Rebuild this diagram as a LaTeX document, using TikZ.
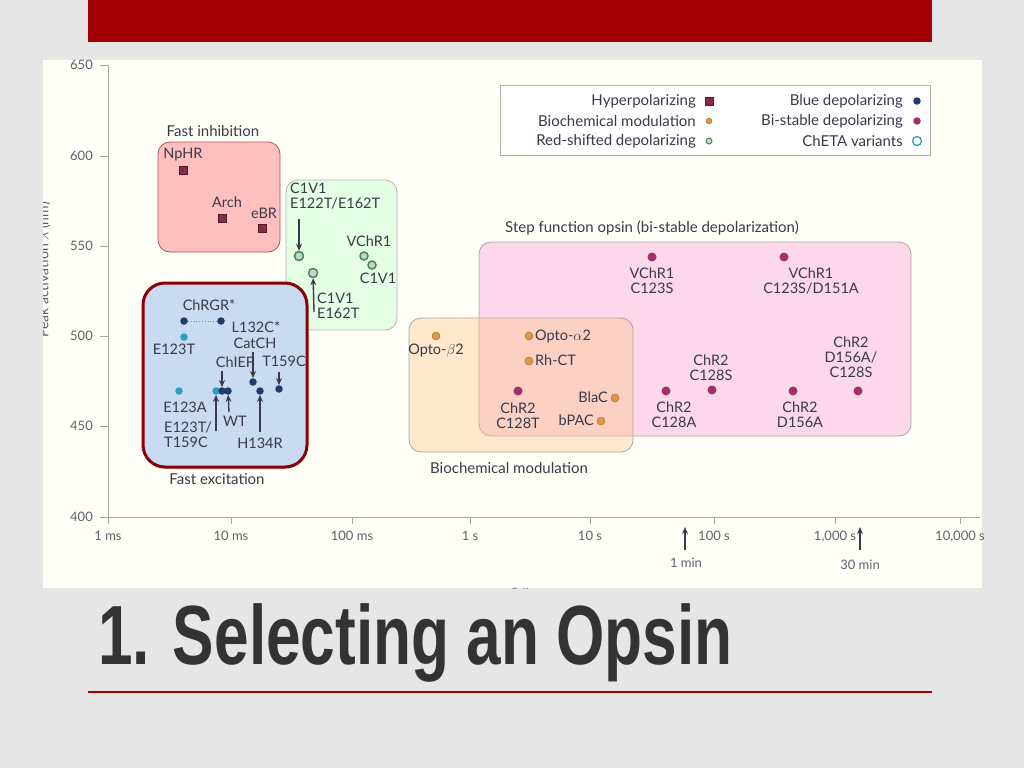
\documentclass[tikz,border=0pt]{standalone}
\usepackage{fontspec}
\setmainfont{Lato}
\newfontfamily\titlefont{Liberation Sans}
\usetikzlibrary{arrows.meta,shadows}
\definecolor{bg}{HTML}{E6E6E6}
\definecolor{barred}{HTML}{A30008}
\definecolor{hyp}{HTML}{8A2A45}
\definecolor{bio}{HTML}{E0963C}
\definecolor{reds}{HTML}{5AA870}
\definecolor{blue}{HTML}{1F3A6B}
\definecolor{bis}{HTML}{A0306A}
\definecolor{cheta}{HTML}{2A9EC0}
\definecolor{txt}{HTML}{3A3A4A}
\definecolor{febox}{HTML}{C8DBF0}
\tikzset{
 lab/.style={font=\fontsize{14.5}{15}\selectfont, text=txt, inner sep=1pt, align=center},
 lbl/.style={font=\fontsize{15}{16}\selectfont, text=txt, inner sep=1pt},
 tick/.style={font=\fontsize{13}{14}\selectfont, text=txt!80, inner sep=1pt},
 sq/.style={fill=hyp, draw=hyp!60!black, minimum size=8pt, inner sep=0pt},
 dotb/.style={circle, fill=blue, minimum size=7.5pt, inner sep=0pt},
 dotc/.style={circle, fill=cheta, minimum size=7.5pt, inner sep=0pt},
 dotbio/.style={circle, fill=bio, draw=bio!70!black, minimum size=8pt, inner sep=0pt},
 dotbis/.style={circle, fill=bis, minimum size=9pt, inner sep=0pt},
 ringg/.style={circle, fill=reds!40, draw=reds!80!black, line width=1.5pt, minimum size=9pt, inner sep=0pt},
 ringc/.style={circle, draw=cheta, line width=1.3pt, minimum size=9pt, inner sep=0pt},
 arr/.style={-{Stealth[length=7pt,width=6pt]}, line width=1.4pt, draw=txt},
 grp/.style={rounded corners=12pt, line width=0.8pt},
}
\begin{document}
\begin{tikzpicture}[x=1pt,y=-1pt]
\useasboundingbox (0,0) rectangle (1024,768);
\fill[bg] (0,0) rectangle (1024,768);
\fill[barred] (88,0) rectangle (932,42);
\fill[white!97!yellow] (43,60) rectangle (982,588);
% axes
\draw[gray!70, line width=0.8pt] (108,65) -- (108,517) -- (980,517);
\foreach \v/\y in {650/65,600/156,550/246,500/336,450/426,400/517}{
  \draw[gray!70, line width=0.8pt] (100,\y) -- (108,\y);
  \node[tick, anchor=east] at (94,\y) {\v};}
\foreach \l/\x in {1 ms/108,10 ms/231,100 ms/352,1 s/470,10 s/590,100 s/714,{1,000 s}/835,{10,000 s}/960}{
  \draw[gray!70, line width=0.8pt] (\x,517) -- (\x,524);
  \node[tick, anchor=north] at (\x,530) {\l};}
\begin{scope}
\clip (43,60) rectangle (982,588);
\node[tick, rotate=90, font=\fontsize{14}{15}\selectfont] (ylab) at (44,270) {Peak activation $\lambda$ (nm)};
\node[tick] (xlab) at (520,592) {$\tau_{\mathrm{off}}$};
\end{scope}
\coordinate (m1a) at (685,550); \coordinate (m1b) at (685,527);
\draw[arr] (m1a) -- (m1b);
\node[tick] (min1) at (686,563) {1 min};
\coordinate (m30a) at (860,550); \coordinate (m30b) at (860,527);
\draw[arr] (m30a) -- (m30b);
\node[tick] (min30) at (860,565) {30 min};
% legend
\draw[gray!60, line width=0.8pt, fill=white] (500,85) rectangle (930,155);
\node[lbl, anchor=east] (lg1) at (697,101) {Hyperpolarizing};
\node[sq] at (709,101) {};
\node[lbl, anchor=east] (lg2) at (697,121) {Biochemical modulation};
\node[dotbio, minimum size=6pt] at (709,121) {};
\node[lbl, anchor=east] (lg3) at (697,141) {Red-shifted depolarizing};
\node[ringg, minimum size=6pt, line width=1pt] at (709,141) {};
\node[lbl, anchor=east] (lg4) at (904,101) {Blue depolarizing};
\node[dotb] at (917,101) {};
\node[lbl, anchor=east] (lg5) at (904,121) {Bi-stable depolarizing};
\node[dotbis, minimum size=7.5pt] at (917,121) {};
\node[lbl, anchor=east] (lg6) at (904,141) {ChETA variants};
\node[ringc] at (917,141) {};
% fast inhibition
\node[lbl] (fi) at (213,131) {Fast inhibition};
\draw[grp, fill=red!25, draw=red!35!gray] (158,142) rectangle (280,252);
\node[lab] (nphrl) at (183,155) {NpHR}; \node[sq] (nphr) at (183,170) {};
\node[lab] (archl) at (227,202) {Arch}; \node[sq] (arch) at (222,218) {};
\node[lab] (ebrl) at (264,213) {eBR}; \node[sq] (ebr) at (262,228) {};
% green
\draw[grp, fill=green!10, draw=gray!60] (286,180) rectangle (397,330);
\node[lab, align=left, anchor=north west] (c1l) at (289,182) {C1V1\\E122T/E162T};
\node[ringg] (g1) at (299,256) {};
\node[ringg] (g2) at (313,273) {};
\coordinate (g1a) at (299,219);
\draw[arr] (g1a) -- (g1);
\node[lab] (vchrl) at (369,241) {VChR1};
\node[ringg, minimum size=8pt] (g3) at (364,256) {};
\node[ringg, minimum size=8pt] (g4) at (372,265) {};
\node[lab] (c1v1b) at (378,278) {C1V1};
\node[lab, align=left, anchor=north west] (c1l2) at (316,292) {C1V1\\E162T};
\coordinate (g2a) at (314,312);
\draw[arr] (g2a) -- (g2);
% fast excitation
\draw[rounded corners=22pt, line width=3pt, draw=barred!85!black, fill=febox, drop shadow={opacity=0.35, shadow xshift=0pt, shadow yshift=-2pt}] (143,283) rectangle (307,467);
\node[lbl] (fe) at (217,479) {Fast excitation};
\node[lab] (chrgrl) at (209,305) {ChRGR*};
\node[dotb] (d1) at (184,321) {};
\node[dotb] (d2) at (221,321) {};
\draw[dotted, gray, line width=0.8pt] (d1) -- (d2);
\node[dotc] (d3) at (184,337) {};
\node[lab] (e123tl) at (174,349) {E123T};
\node[lab] (l132) at (256,327) {L132C*};
\node[lab] (catch) at (255,343) {CatCH};
\node[lab] (chiefl) at (235,362) {ChIEF};
\node[lab] (t159l) at (284,361) {T159C};
\node[dotc] (e123a) at (179,391) {};
\node[dotc] (d5) at (216,391) {};
\node[dotb] (d6) at (222,391) {};
\node[dotb] (d7) at (228,391) {};
\node[dotb] (d8) at (253,382) {};
\node[dotb] (d9) at (260,391) {};
\node[dotb] (d10) at (279,389) {};
\coordinate (a1) at (222,371); \draw[arr] (a1) -- (d6);
\coordinate (a2) at (253,352); \draw[arr] (a2) -- (d8);
\coordinate (a3) at (279,372); \draw[arr] (a3) -- (d10);
\coordinate (a4) at (216,431); \draw[arr] (a4) -- (d5);
\coordinate (a5) at (229,412); \draw[arr] (a5) -- (d7);
\coordinate (a6) at (260,432); \draw[arr] (a6) -- (d9);
\node[lab] (e123al) at (185,407) {E123A};
\node[lab, align=left, anchor=north west] (e123tt) at (163,421) {E123T/\\T159C};
\node[lab] (wtl) at (235,421) {WT};
\node[lab] (h134l) at (260,443) {H134R};
% step function & biochemical
\draw[grp, fill=magenta!25!white, draw=gray!70, fill opacity=0.6] (479,242) rectangle (911,436);
\draw[grp, fill=orange!45, draw=gray!70, fill opacity=0.4] (409,318) rectangle (633,452);
\node[lbl] (sfl) at (652,228) {Step function opsin (bi-stable depolarization)};
\node[lbl] (bml) at (509,468) {Biochemical modulation};
\node[dotbio] (ob2) at (436,336) {};
\node[lab] (ob2l) at (436,351) {Opto-$\beta$2};
\node[dotbio] (oa2) at (529,336) {};
\node[lab, anchor=west] (oa2l) at (534,336) {Opto-$\alpha$2};
\node[dotbio] (rh) at (529,361) {};
\node[lab, anchor=west] (rhl) at (534,360) {Rh-CT};
\node[dotbio] (blac) at (615,398) {};
\node[lab, anchor=east] (blacl) at (609,397) {BlaC};
\node[dotbio] (bpac) at (601,421) {};
\node[lab, anchor=east] (bpacl) at (595,420) {bPAC};
\node[dotbis] (c128t) at (518,391) {};
\node[lab] (c128tl) at (518,416) {ChR2\\C128T};
\node[dotbis] (v1) at (652,257) {};
\node[lab] (v1l) at (652,281) {VChR1\\C123S};
\node[dotbis] (v2) at (784,257) {};
\node[lab] (v2l) at (811,281) {VChR1\\C123S/D151A};
\node[dotbis] (c128s) at (712,390) {};
\node[lab] (c128sl) at (711,368) {ChR2\\C128S};
\node[dotbis] (c128a) at (666,391) {};
\node[lab] (c128al) at (674,415) {ChR2\\C128A};
\node[dotbis] (d156) at (793,391) {};
\node[lab] (d156l) at (800,415) {ChR2\\D156A};
\node[dotbis] (dc) at (858,391) {};
\node[lab] (dcl) at (851,357) {ChR2\\D156A/\\C128S};
% title
\node[anchor=west, font=\titlefont\bfseries\fontsize{84}{86}\selectfont, text=black!80, xscale=0.74, inner sep=0] (title) at (98,643) {1. Selecting an Opsin};
\draw[barred, line width=1.5pt] (88,692) -- (932,692);
\end{tikzpicture}
\end{document}
